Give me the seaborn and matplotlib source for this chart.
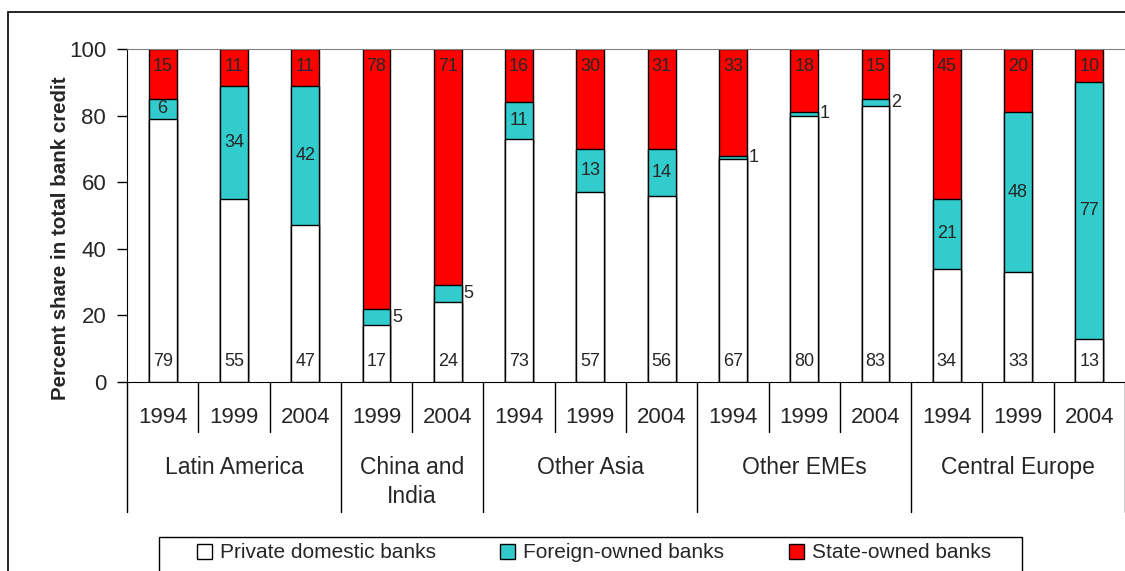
import numpy as np
import pandas as pd
import seaborn as sns
import matplotlib.pyplot as plt
from matplotlib.patches import Patch, Rectangle

# bank credit shares by ownership, percent
regions = ["Latin America", "China and\nIndia", "Other Asia", "Other EMEs", "Central Europe"]
years = [["1994", "1999", "2004"], ["1999", "2004"], ["1994", "1999", "2004"],
         ["1994", "1999", "2004"], ["1994", "1999", "2004"]]
private = [79, 55, 47, 17, 24, 73, 57, 56, 67, 80, 83, 34, 33, 13]
foreign = [6, 34, 42, 5, 5, 11, 13, 14, 1, 1, 2, 21, 48, 77]
state = [15, 11, 11, 78, 71, 16, 30, 31, 33, 18, 15, 45, 20, 10]

keys = [f"{r}|{y}" for r, ys in zip(regions, years) for y in ys]
df = pd.DataFrame({"bar": keys, "private": private, "foreign": foreign, "state": state})
df["pf"] = df["private"] + df["foreign"]
df["total"] = 100  # state-owned is the remainder up to 100%

sns.set_style("white")
plt.rcParams["font.family"] = ["Liberation Sans", "DejaVu Sans"]

RED, CYAN = "#FF0000", "#33CCCC"
fig = plt.figure(figsize=(11.25, 5.71), dpi=100)
ax = fig.add_axes([127 / 1125, 1 - 382 / 571, 1 - 127 / 1125, 333 / 571])

for col, c in [("total", RED), ("pf", CYAN), ("private", "white")]:
    sns.barplot(data=df, x="bar", y=col, order=keys, color=c, saturation=1,
                edgecolor="black", linewidth=1, width=0.39, errorbar=None, ax=ax)

for i in range(len(keys)):
    ax.text(i, 94.8, str(state[i]), ha="center", va="center", fontsize=13)
    ax.text(i, 6.2, str(private[i]), ha="center", va="center", fontsize=13)
    mid = private[i] + foreign[i] / 2
    if foreign[i] > 5:
        ax.text(i, mid, str(foreign[i]), ha="center", va="center", fontsize=13)
    else:
        ax.text(i + 0.22, mid, str(foreign[i]), ha="left", va="center", fontsize=13)

ax.set_ylim(0, 100)
ax.set_xlim(-0.5, len(keys) - 0.5)
ax.set_yticks(range(0, 101, 20))
ax.tick_params(axis="y", labelsize=16, length=7, width=1, color="black", left=True, pad=8)
ax.set_xticks([])
ax.set_xlabel("")
ax.set_ylabel("")
ax.spines["right"].set_visible(False)
ax.spines["top"].set_color("#808080")
ax.spines["left"].set_color("black")
ax.spines["bottom"].set_color("black")

# category axis: years and region groups
trans = ax.get_xaxis_transform()
pos = 0
ax.plot([-0.5, -0.5], [0, -0.39], color="black", lw=1, transform=trans, clip_on=False)
for r, ys in zip(regions, years):
    for j, y in enumerate(ys):
        ax.text(pos + j, -0.108, y, ha="center", va="center", fontsize=16, transform=trans)
        if j < len(ys) - 1:
            ax.plot([pos + j + 0.5] * 2, [0, -0.15], color="black", lw=1,
                    transform=trans, clip_on=False)
    cx = pos + (len(ys) - 1) / 2
    ypos = -0.30 if "\n" in r else -0.258
    ax.text(cx, ypos, r, ha="center", va="center", fontsize=16.5, linespacing=1.35,
            transform=trans)
    pos += len(ys)
    ax.plot([pos - 0.5] * 2, [0, -0.39], color="black", lw=1, transform=trans, clip_on=False)

fig.text(60 / 1125, 1 - 238 / 571, "Percent share in total bank credit", rotation=90,
         ha="center", va="center", fontsize=14.8, fontweight="bold")

# outer frame and legend box
fig.patches.append(Rectangle((8 / 1125, -0.1), 1.2, 1 - 12 / 571 + 0.1, transform=fig.transFigure,
                             fill=False, edgecolor="black", lw=1.2))
fig.patches.append(Rectangle((159 / 1125, -0.1), 863 / 1125, 0.1 + 1 - 537 / 571,
                             transform=fig.transFigure, fill=False, edgecolor="black", lw=1))
handles = [Patch(facecolor=c, edgecolor="black", lw=1) for c in ["white", CYAN, RED]]
fig.legend(handles, ["Private domestic banks", "Foreign-owned banks", "State-owned banks"],
           loc="center", bbox_to_anchor=(594 / 1125, 1 - 553 / 571), ncol=3, frameon=False,
           fontsize=15, handlelength=0.7, handleheight=0.7, handletextpad=0.4, columnspacing=3.1)

fig.savefig("out.png", dpi=100)
